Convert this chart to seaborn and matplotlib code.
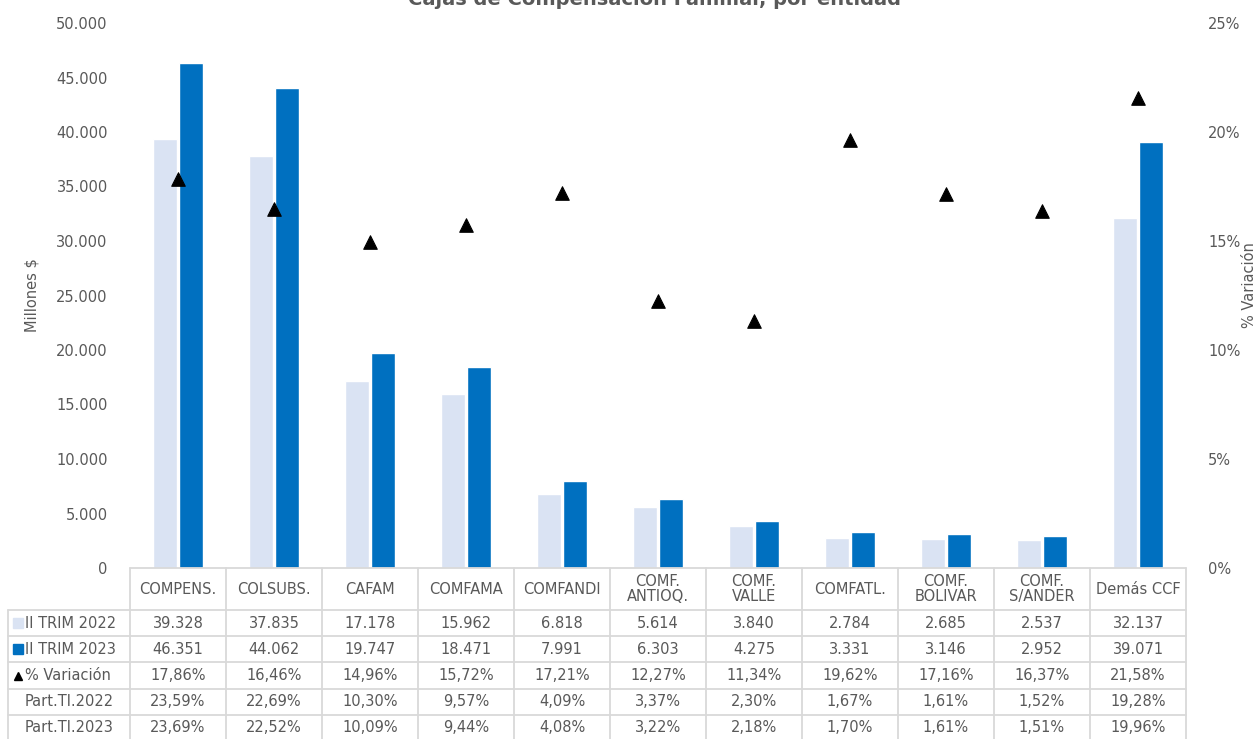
import matplotlib
matplotlib.use("Agg")
import matplotlib.pyplot as plt
import seaborn as sns
import pandas as pd
from matplotlib.lines import Line2D
from matplotlib.patches import Rectangle

categories = ["COMPENS.", "COLSUBS.", "CAFAM", "COMFAMA", "COMFANDI",
              "COMF.\nANTIOQ.", "COMF.\nVALLE", "COMFATL.", "COMF.\nBOLIVAR",
              "COMF.\nS/ANDER", "Demás CCF"]
trim2022 = [39328, 37835, 17178, 15962, 6818, 5614, 3840, 2784, 2685, 2537, 32137]
trim2023 = [46351, 44062, 19747, 18471, 7991, 6303, 4275, 3331, 3146, 2952, 39071]
variacion = [17.86, 16.46, 14.96, 15.72, 17.21, 12.27, 11.34, 19.62, 17.16, 16.37, 21.58]
part2022 = [23.59, 22.69, 10.30, 9.57, 4.09, 3.37, 2.30, 1.67, 1.61, 1.52, 19.28]
part2023 = [23.69, 22.52, 10.09, 9.44, 4.08, 3.22, 2.18, 1.70, 1.61, 1.51, 19.96]
series = ["II TRIM 2022", "II TRIM 2023"]
yticks_left = [0, 5000, 10000, 15000, 20000, 25000, 30000, 35000, 40000, 45000, 50000]
yticks_right = [0, 5, 10, 15, 20, 25]

c_light = "#DAE3F3"
c_dark = "#0070C0"
gray = "#595959"
grid = "#D9D9D9"

sns.set_theme(style="white")
plt.rcParams["font.family"] = ["DejaVu Sans"]

W, H = 1257, 739
fig = plt.figure(figsize=(W / 100, H / 100), dpi=100)
L, R, B, T = 130, 1186, 568, 23
ax = fig.add_axes([L / W, 1 - B / H, (R - L) / W, (B - T) / H])

df = pd.DataFrame({
    "cat": categories * 2,
    "val": trim2022 + trim2023,
    "serie": [series[0]] * len(categories) + [series[1]] * len(categories),
})
sns.barplot(data=df, x="cat", y="val", hue="serie", palette=[c_light, c_dark],
            width=0.54, gap=0.08, ax=ax, legend=False, saturation=1)
ax.set_xlim(-0.5, len(categories) - 0.5)
ax.set_ylim(0, 50000)
ax.set_yticks(yticks_left)
ax.set_yticklabels([f"{v:,}".replace(",", ".") for v in yticks_left], color=gray, fontsize=10.5)
ax.set_xticks([])
ax.set_xlabel("")
ax.set_ylabel("Millones $", color=gray, fontsize=10.5, labelpad=12)
ax.tick_params(axis="y", length=0, pad=16)
for s in ax.spines.values():
    s.set_visible(False)

ax2 = ax.twinx()
dv = pd.DataFrame({"cat": list(range(len(categories))), "var": variacion})
sns.scatterplot(data=dv, x="cat", y="var", marker="^", color="black", s=95,
                edgecolor="black", ax=ax2, zorder=5)
ax2.set_ylim(0, 25)
ax2.set_yticks(yticks_right)
ax2.set_yticklabels([f"{v}%" for v in yticks_right], color=gray, fontsize=10.5)
ax2.tick_params(axis="y", length=0, pad=16)
ax2.set_ylabel("% Variación", color=gray, fontsize=10.5)
ax2.yaxis.set_label_coords(1.053, 0.52)
ax2.set_xlabel("")
for s in ax2.spines.values():
    s.set_visible(False)

fig.text(654 / W, 1 - 5 / H, "Cajas de Compensación Familiar, por entidad",
         ha="center", va="baseline", fontsize=14, fontweight="bold", color=gray)

# data table
def fx(px):
    return px / W

def fy(py):
    return 1 - py / H

rows_y = [568, 610, 636, 662, 689, 715, 741]
n = len(categories)
cw = (R - L) / n
lw = 1.3
fig.add_artist(Line2D([fx(L), fx(R)], [fy(568), fy(568)], color=grid, lw=lw))
for yy in rows_y[1:]:
    fig.add_artist(Line2D([fx(8), fx(R)], [fy(yy), fy(yy)], color=grid, lw=lw))
for i in range(n + 1):
    xx = L + i * cw
    fig.add_artist(Line2D([fx(xx), fx(xx)], [fy(568), fy(741)], color=grid, lw=lw))
fig.add_artist(Line2D([fx(8), fx(8)], [fy(610), fy(741)], color=grid, lw=lw))

for i, c in enumerate(categories):
    fig.text(fx(L + (i + 0.5) * cw), fy(589), c, ha="center", va="center",
             fontsize=10.5, color=gray, linespacing=1.0)

def fmt_int(v):
    return f"{v:,}".replace(",", ".")

def fmt_pct(v):
    return f"{v:.2f}%".replace(".", ",")

table_rows = [
    ("II TRIM 2022", [fmt_int(v) for v in trim2022], "sq_light"),
    ("II TRIM 2023", [fmt_int(v) for v in trim2023], "sq_dark"),
    ("% Variación", [fmt_pct(v) for v in variacion], "tri"),
    ("Part.Tl.2022", [fmt_pct(v) for v in part2022], None),
    ("Part.Tl.2023", [fmt_pct(v) for v in part2023], None),
]
for r, (label, vals, key) in enumerate(table_rows):
    yc = (rows_y[r + 1] + rows_y[r + 2]) / 2
    fig.text(fx(25), fy(yc), label, ha="left", va="center", fontsize=10.5, color=gray)
    if key in ("sq_light", "sq_dark"):
        col = c_light if key == "sq_light" else c_dark
        fig.add_artist(Rectangle((fx(13), fy(yc + 5)), 10 / W, 10 / H,
                                 transform=fig.transFigure, color=col))
    elif key == "tri":
        fig.add_artist(Line2D([fx(18)], [fy(yc)], marker="^", color="black",
                              markersize=6, linestyle="none"))
    for i, v in enumerate(vals):
        fig.text(fx(L + (i + 0.5) * cw), fy(yc), v, ha="center", va="center",
                 fontsize=10.5, color=gray)

fig.savefig("out.png", dpi=100)
